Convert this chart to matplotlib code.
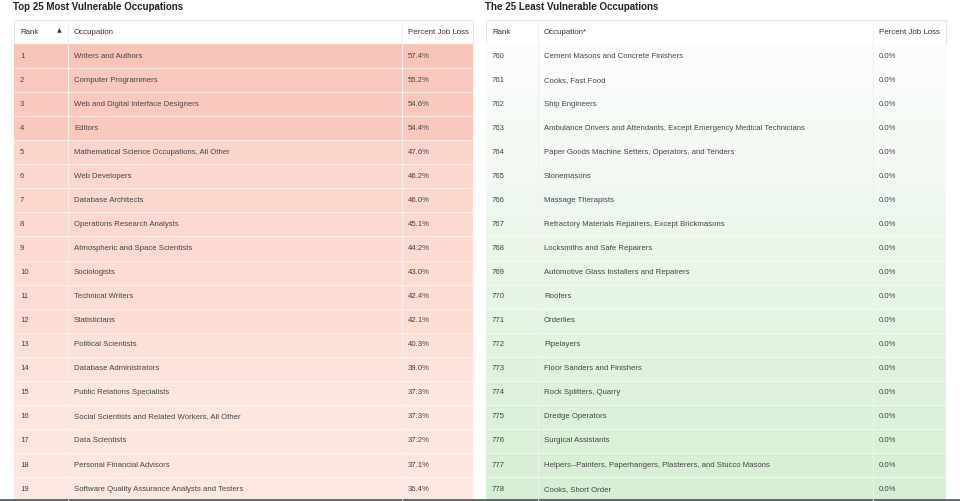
import matplotlib.pyplot as plt
import numpy as np
from matplotlib.patches import Rectangle

left_title = "Top 25 Most Vulnerable Occupations"
right_title = "The 25 Least Vulnerable Occupations"

left_ranks = list(range(1, 20))
left_jobs = [
    "Writers and Authors", "Computer Programmers", "Web and Digital Interface Designers",
    "Editors", "Mathematical Science Occupations, All Other", "Web Developers",
    "Database Architects", "Operations Research Analysts", "Atmospheric and Space Scientists",
    "Sociologists", "Technical Writers", "Statisticians", "Political Scientists",
    "Database Administrators", "Public Relations Specialists",
    "Social Scientists and Related Workers, All Other", "Data Scientists",
    "Personal Financial Advisors", "Software Quality Assurance Analysts and Testers",
]
left_loss = [57.4, 55.2, 54.6, 54.4, 47.6, 46.2, 46.0, 45.1, 44.2, 43.0, 42.4, 42.1,
             40.3, 39.0, 37.3, 37.3, 37.2, 37.1, 36.4]

right_ranks = list(range(760, 779))
right_jobs = [
    "Cement Masons and Concrete Finishers", "Cooks, Fast Food", "Ship Engineers",
    "Ambulance Drivers and Attendants, Except Emergency Medical Technicians",
    "Paper Goods Machine Setters, Operators, and Tenders", "Stonemasons",
    "Massage Therapists", "Refractory Materials Repairers, Except Brickmasons",
    "Locksmiths and Safe Repairers", "Automotive Glass Installers and Repairers",
    "Roofers", "Orderlies", "Pipelayers", "Floor Sanders and Finishers",
    "Rock Splitters, Quarry", "Dredge Operators", "Surgical Assistants",
    "Helpers--Painters, Paperhangers, Plasterers, and Stucco Masons", "Cooks, Short Order",
]
right_loss = [0.0] * 19

W, H = 960, 501
fig = plt.figure(figsize=(W / 100, H / 100), dpi=100)
ax = fig.add_axes([0, 0, 1, 1])
ax.set_xlim(0, W)
ax.set_ylim(H, 0)
ax.axis("off")

FONT = "Liberation Sans"
ROW_H = 24.06
TOP = 44


def mix(c1, c2, t):
    return tuple((a + (b - a) * t) / 255 for a, b in zip(c1, c2))


def draw_table(x0, cols, title, header, ranks, jobs, vals, colors, arrow):
    ax.text(x0 - 1, 7, title, fontsize=7, fontweight="bold", family=FONT,
            va="center", ha="left", color="#222222")
    x_end = cols[-1]
    ax.add_patch(Rectangle((x0, 20), x_end - x0, TOP - 20, facecolor="white",
                           edgecolor="#e6e6e6", lw=0.8))
    for cx in cols[1:-1]:
        ax.plot([cx, cx], [20, H], color="#f0f0f0", lw=0.7, zorder=3)
    for i, h in enumerate(header):
        ax.text(cols[i] + 6, 32, h, fontsize=5.7, family=FONT, va="center",
                color="#333333")
    if arrow:
        ax.text(cols[1] - 6, 31, "\u25b2", fontsize=4.5, family="DejaVu Sans",
                va="center", ha="right", color="#333333")
    for i, (r, j, v) in enumerate(zip(ranks, jobs, vals)):
        y = TOP + i * ROW_H
        ax.add_patch(Rectangle((x0, y), x_end - x0, ROW_H, facecolor=colors[i],
                               edgecolor="none"))
        ax.plot([x0, x_end], [y + ROW_H, y + ROW_H], color="white", lw=0.6, alpha=0.7)
        yc = y + ROW_H / 2
        for k, s in enumerate([str(r), j, f"{v:.1f}%"]):
            ax.text(cols[k] + 6, yc, s, fontsize=5.6, family=FONT, va="center",
                    color="#444444", zorder=4)


vmax, vmin = max(left_loss), min(left_loss)
left_colors = [mix((249, 196, 184), (253, 231, 224), (vmax - v) / (vmax - vmin))
               for v in left_loss]
right_colors = [mix((251, 253, 251), (214, 238, 211), (r - right_ranks[0]) / (right_ranks[-1] - right_ranks[0]))
                for r in right_ranks]

draw_table(14, [14, 68, 402, 473], left_title, ["Rank", "Occupation", "Percent Job Loss"],
           left_ranks, left_jobs, left_loss, left_colors, True)
draw_table(486, [486, 538, 873, 946], right_title, ["Rank", "Occupation*", "Percent Job Loss"],
           right_ranks, right_jobs, right_loss, right_colors, False)

ax.plot([0, W], [499.5, 499.5], color="#55606e", lw=2)

fig.savefig("out.png", dpi=100)
